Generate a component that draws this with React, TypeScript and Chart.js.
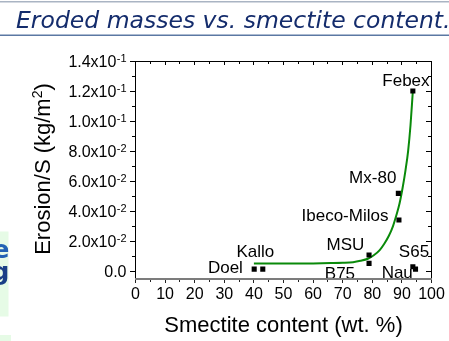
import React, { useEffect, useRef } from 'react';
import { Chart, registerables } from 'chart.js';

Chart.register(...registerables);

// ---------- data ----------
const sampleNames = ['Doel', 'Kallo', 'B75', 'MSU', 'Ibeco-Milos', 'Mx-80', 'Febex', 'S65', 'Nau'];
const smectiteContent = [40.1, 43.0, 78.9, 78.9, 89.0, 88.8, 93.7, 93.7, 94.6];
const erosionPerS = [0.0013, 0.0013, 0.0051, 0.0107, 0.034, 0.0518, 0.12, 0.0029, 0.0013];

// fitted (green) curve
const fitX = [40, 50, 60, 66, 70, 73.5, 76, 78.5, 80.5, 82.5, 84, 85.6, 87, 88.1, 89.2, 90.2, 91.2, 92.1, 92.9, 93.7];
const fitY = [0.005, 0.005, 0.0051, 0.0053, 0.0055, 0.0059, 0.0068, 0.0082, 0.0105, 0.014, 0.018, 0.0235, 0.03, 0.037, 0.045, 0.055, 0.067, 0.08, 0.097, 0.12];

const xTicks = [0, 10, 20, 30, 40, 50, 60, 70, 80, 90, 100];
const xTickLabels = ['0', '10', '20', '30', '40', '50', '60', '70', '80', '90', '100'];
const xMinorTicks = [5, 15, 25, 35, 45, 55, 65, 75, 85, 95];
const yTicks = [0, 0.02, 0.04, 0.06, 0.08, 0.1, 0.12, 0.14];
const yTickMantissa = ['0.0', '2.0x10', '4.0x10', '6.0x10', '8.0x10', '1.0x10', '1.2x10', '1.4x10'];
const yTickExponent = ['', '-2', '-2', '-2', '-2', '-1', '-1', '-1'];
const yMinorTicks = [0.01, 0.03, 0.05, 0.07, 0.09, 0.11, 0.13];

const slideTitle = 'Eroded masses vs. smectite content.';
const xTitle = 'Smectite content (wt. %)';
const yTitleMain = 'Erosion/S (kg/m';
const yTitleSup = '2';
const yTitleEnd = ')';
const sideLetters = ['e', 'g'];

// ---------- layout / style (not data) ----------
const W = 449;
const H = 341;
const labelPlacement: { align: CanvasTextAlign; dx: number; dy: number }[] = [
  { align: 'right', dx: -11.3, dy: 3.7 },   // Doel
  { align: 'center', dx: -7.5, dy: -11.7 }, // Kallo
  { align: 'right', dx: -14, dy: 15.6 },    // B75
  { align: 'right', dx: -4.7, dy: -5 },     // MSU
  { align: 'right', dx: -10.5, dy: 0.7 },   // Ibeco-Milos
  { align: 'right', dx: -2, dy: -10 },      // Mx-80
  { align: 'right', dx: 16.7, dy: -5 },     // Febex
  { align: 'left', dx: -14, dy: -10 },      // S65
  { align: 'right', dx: -2.7, dy: 9.3 },    // Nau
];
const SANS = '"Liberation Sans", Arial, sans-serif';

const decorPlugin = {
  id: 'decor',
  beforeDraw(chart: any) {
    const ctx: CanvasRenderingContext2D = chart.ctx;
    ctx.save();
    ctx.fillStyle = '#ffffff';
    ctx.fillRect(0, 0, W, H);
    // slide title bar
    ctx.fillStyle = '#aab4c3';
    ctx.fillRect(0, 1, W, 1.5);
    ctx.fillStyle = '#5b78a3';
    ctx.fillRect(0, 34.5, W, 1.5);
    ctx.fillStyle = '#142c6c';
    ctx.font = 'italic 23.5px "DejaVu Sans", Verdana, sans-serif';
    ctx.textAlign = 'left';
    ctx.textBaseline = 'alphabetic';
    ctx.fillText(slideTitle, 16, 28.3);
    // clipped side boxes
    ctx.fillStyle = '#e6fbe6';
    ctx.fillRect(0, 231.5, 8.5, 85);
    ctx.fillRect(0, 335, 11, 6);
    ctx.save();
    ctx.beginPath();
    ctx.rect(0, 231.5, 8.5, 85);
    ctx.clip();
    ctx.font = 'bold 25px "DejaVu Sans", Verdana, sans-serif';
    ctx.textAlign = 'right';
    ctx.fillStyle = '#2262b4';
    ctx.fillText(sideLetters[0], 9.5, 258);
    ctx.fillStyle = '#193f86';
    ctx.fillText(sideLetters[1], 9.5, 279.5);
    ctx.restore();
    ctx.restore();
  },
  afterDatasetsDraw(chart: any) {
    const ctx: CanvasRenderingContext2D = chart.ctx;
    const xs = chart.scales.x;
    const ys = chart.scales.y;
    ctx.save();
    ctx.fillStyle = '#000';
    ctx.font = `17px ${SANS}`;
    ctx.textBaseline = 'alphabetic';
    sampleNames.forEach((name, i) => {
      const px = xs.getPixelForValue(smectiteContent[i]);
      const py = ys.getPixelForValue(erosionPerS[i]);
      const p = labelPlacement[i];
      ctx.textAlign = p.align;
      ctx.fillText(name, px + p.dx, py + p.dy);
    });
    ctx.restore();
  },
  afterDraw(chart: any) {
    const ctx: CanvasRenderingContext2D = chart.ctx;
    const xs = chart.scales.x;
    const ys = chart.scales.y;
    const a = chart.chartArea;
    const L = 135, R = 431, T = 61, B = 278;
    ctx.save();
    // frame
    ctx.fillStyle = '#000';
    ctx.fillRect(L, T, 1, B - T + 2);
    ctx.fillRect(R, T, 1, B - T + 2);
    ctx.fillRect(L, T, R - L + 1, 1);
    // x ticks
    xTicks.forEach((v) => {
      const c = Math.floor(xs.getPixelForValue(v));
      ctx.fillStyle = '#000';
      ctx.fillRect(c, T + 1, 1, 3);
      ctx.fillStyle = '#222';
      ctx.fillRect(c, B + 2, 1, 3);
    });
    xMinorTicks.forEach((v) => {
      const c = Math.floor(xs.getPixelForValue(v));
      ctx.fillStyle = '#000';
      ctx.fillRect(c, T + 1, 1, 2);
      ctx.fillStyle = '#222';
      ctx.fillRect(c, B + 2, 1, 2);
    });
    // y ticks
    ctx.fillStyle = '#000';
    yTicks.forEach((v) => {
      const r = Math.floor(ys.getPixelForValue(v));
      ctx.fillRect(L - 5, r, 5, 1);
      ctx.fillRect(R - 5, r, 5, 1);
    });
    yMinorTicks.forEach((v) => {
      const r = Math.floor(ys.getPixelForValue(v));
      ctx.fillRect(L - 3, r, 3, 1);
      ctx.fillRect(R - 3, r, 3, 1);
    });
    // bottom axis (grey)
    ctx.fillStyle = '#7c7c7c';
    ctx.fillRect(L, B, R - L + 1, 2);

    // tick labels
    ctx.fillStyle = '#000';
    ctx.textBaseline = 'alphabetic';
    ctx.font = `16px ${SANS}`;
    ctx.textAlign = 'center';
    xTicks.forEach((v, i) => {
      ctx.fillText(xTickLabels[i], xs.getPixelForValue(v), 298.5);
    });
    const rightEdge = 126.5;
    yTicks.forEach((v, i) => {
      const y = ys.getPixelForValue(v);
      let expW = 0;
      if (yTickExponent[i]) {
        ctx.font = `11px ${SANS}`;
        expW = ctx.measureText(yTickExponent[i]).width;
        ctx.textAlign = 'left';
        ctx.fillText(yTickExponent[i], rightEdge - expW, y + 0.5);
      }
      ctx.font = `16px ${SANS}`;
      ctx.textAlign = 'right';
      ctx.fillText(yTickMantissa[i], rightEdge - expW - (expW ? 0.3 : 0), y + 6);
    });

    // axis titles
    ctx.font = `22px ${SANS}`;
    ctx.textAlign = 'center';
    ctx.fillText(xTitle, (a.left + a.right) / 2, 331.7);

    ctx.save();
    ctx.translate(49.5, 169);
    ctx.rotate(-Math.PI / 2);
    ctx.textAlign = 'left';
    ctx.font = `22px ${SANS}`;
    const w1 = ctx.measureText(yTitleMain).width;
    const w3 = ctx.measureText(yTitleEnd).width;
    ctx.font = `14px ${SANS}`;
    const w2 = ctx.measureText(yTitleSup).width;
    const total = w1 + w2 + w3;
    let x0 = -total / 2;
    ctx.font = `22px ${SANS}`;
    ctx.fillText(yTitleMain, x0, 0);
    x0 += w1;
    ctx.font = `14px ${SANS}`;
    ctx.fillText(yTitleSup, x0, -8);
    x0 += w2;
    ctx.font = `22px ${SANS}`;
    ctx.fillText(yTitleEnd, x0, 0);
    ctx.restore();

    ctx.restore();
  },
};

export default function App() {
  const ref = useRef<HTMLCanvasElement | null>(null);

  useEffect(() => {
    if (!ref.current) return;
    const chart = new Chart(ref.current, {
      type: 'scatter',
      data: {
        datasets: [
          {
            type: 'line',
            data: fitX.map((x, i) => ({ x, y: fitY[i] })),
            borderColor: '#0a8a0a',
            borderWidth: 2,
            pointRadius: 0,
            fill: false,
            cubicInterpolationMode: 'monotone',
            order: 2,
          } as any,
          {
            type: 'scatter',
            data: smectiteContent.map((x, i) => ({ x, y: erosionPerS[i] })),
            pointStyle: 'rect',
            pointRadius: 3.6,
            backgroundColor: '#000',
            borderWidth: 0,
            order: 1,
          } as any,
        ],
      },
      options: {
        animation: false,
        responsive: false,
        events: [],
        layout: { padding: { top: 61, right: 17.5, left: 0, bottom: 0 } },
        plugins: { legend: { display: false }, tooltip: { enabled: false }, title: { display: false } },
        scales: {
          x: {
            type: 'linear',
            min: 0,
            max: 100,
            afterFit: (s: any) => { s.height = 62; },
            ticks: { display: false },
            grid: { display: false },
            border: { display: false },
          },
          y: {
            type: 'linear',
            min: -0.0053,
            max: 0.14,
            afterFit: (s: any) => { s.width = 135.5; },
            ticks: { display: false },
            grid: { display: false },
            border: { display: false },
          },
        },
      } as any,
      plugins: [decorPlugin],
    });
    return () => chart.destroy();
  }, []);

  return (
    <div style={{ position: 'fixed', left: 0, top: 0, width: W, height: H, background: '#fff' }}>
      <canvas ref={ref} width={W} height={H} style={{ display: 'block', width: W, height: H }} />
    </div>
  );
}
